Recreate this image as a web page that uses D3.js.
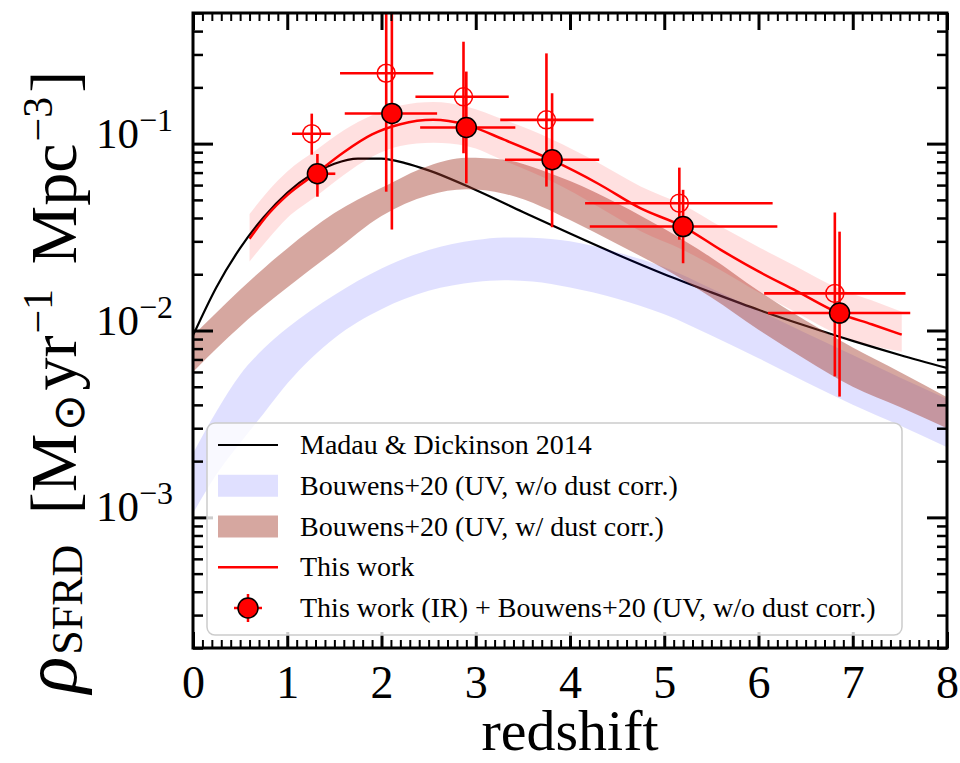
<!DOCTYPE html>
<html>
<head>
<meta charset="utf-8">
<script src="https://cdn.jsdelivr.net/npm/d3@7"></script>
<style>
body { margin: 0; background: #fff; }
svg { display: block; }
text { font-family: "Liberation Serif", "Times New Roman", serif; fill: #000; }
</style>
</head>
<body>
<div id="chart"></div>
<script>
// Madau & Dickinson 2014 curve
var mdZ = [0, 0.25, 0.5, 0.75, 1, 1.25, 1.5, 1.75, 2, 2.25, 2.5, 3, 3.5, 4, 4.5, 5, 5.5, 6, 6.5, 7, 7.5, 8];
var mdRho = [0.0094, 0.0171, 0.0276, 0.0404, 0.0546, 0.068, 0.0781, 0.0832, 0.0831, 0.0787, 0.0719, 0.0565, 0.0431, 0.033, 0.0255, 0.02, 0.016, 0.0129, 0.0106, 0.0088, 0.0074, 0.0063];

// Bouwens+20 UV without dust correction (band)
var uvZ = [0, 0.25, 0.5, 0.75, 1, 1.5, 2, 2.5, 3, 3.3, 3.6, 4, 4.5, 5, 5.5, 6, 6.5, 7, 7.5, 8];
var uvHi = [0.0022, 0.0037, 0.0058, 0.008, 0.0103, 0.0155, 0.0215, 0.027, 0.0305, 0.0315, 0.0314, 0.03, 0.0262, 0.0218, 0.0168, 0.0128, 0.0097, 0.0074, 0.0056, 0.0043];
var uvLo = [0.00105, 0.0017, 0.0025, 0.0036, 0.0052, 0.0091, 0.013, 0.0163, 0.0182, 0.0186, 0.0183, 0.017, 0.0148, 0.0122, 0.0094, 0.0071, 0.0053, 0.004, 0.0031, 0.00237];

// Bouwens+20 UV with dust correction (band)
var dustZ = [0, 0.25, 0.5, 0.75, 1, 1.5, 2, 2.5, 2.9, 3.3, 3.7, 4, 4.5, 5, 5.5, 6, 6.5, 7, 7.5, 8];
var dustHi = [0.0094, 0.0125, 0.0165, 0.0215, 0.0275, 0.0425, 0.058, 0.076, 0.084, 0.082, 0.072, 0.063, 0.048, 0.035, 0.0245, 0.0163, 0.0113, 0.0081, 0.006, 0.0044];
var dustLo = [0.006, 0.008, 0.0105, 0.0135, 0.017, 0.0265, 0.041, 0.053, 0.057, 0.054, 0.046, 0.039, 0.029, 0.0214, 0.015, 0.0101, 0.007, 0.005, 0.0039, 0.003];

// This work: best fit and its band
var fitZ = [0.6, 0.8, 1.0, 1.3, 1.6, 1.9, 2.2, 2.55, 2.9, 3.3, 3.8, 4.3, 4.75, 5.2, 5.6, 6.0, 6.4, 6.85, 7.2, 7.52];
var fitRho = [0.031, 0.042, 0.053, 0.069, 0.09, 0.112, 0.127, 0.134, 0.126, 0.105, 0.082, 0.061, 0.045, 0.036, 0.027, 0.0207, 0.0163, 0.0124, 0.0108, 0.0095];
var fitHi = [0.042, 0.056, 0.071, 0.092, 0.118, 0.142, 0.16, 0.167, 0.158, 0.134, 0.106, 0.079, 0.059, 0.047, 0.036, 0.028, 0.022, 0.0168, 0.0145, 0.0126];
var fitLo = [0.0234, 0.031, 0.04, 0.052, 0.068, 0.085, 0.097, 0.101, 0.097, 0.081, 0.063, 0.046, 0.034, 0.027, 0.021, 0.016, 0.0125, 0.0095, 0.0083, 0.0077];

// This work (IR) + Bouwens+20 (UV, w/o dust corr.), filled points
var ptZ = [1.32, 2.11, 2.90, 3.81, 5.20, 6.86];
var ptZlo = [1.21, 1.61, 2.41, 3.31, 4.21, 6.10];
var ptZhi = [1.51, 2.59, 3.42, 4.31, 6.20, 7.61];
var ptRho = [0.069, 0.145, 0.122, 0.082, 0.036, 0.0124];
var ptLo = [0.052, 0.0347, 0.0613, 0.0357, 0.0229, 0.00443];
var ptHi = [0.088, 0.6, 0.243, 0.186, 0.0566, 0.0338];

// open points
var opZ = [1.26, 2.05, 2.87, 3.75, 5.16, 6.81];
var opZlo = [1.05, 1.56, 2.36, 3.26, 4.16, 6.06];
var opZhi = [1.46, 2.55, 3.35, 4.25, 6.15, 7.56];
var opRho = [0.113, 0.238, 0.178, 0.134, 0.048, 0.0158];
var opLo = [0.0873, 0.0553, 0.0888, 0.0589, 0.0306, 0.00568];
var opHi = [0.1447, 0.9, 0.351, 0.304, 0.0744, 0.0428];

var xTicks = [0, 1, 2, 3, 4, 5, 6, 7, 8];
var yMajor = [1e-3, 1e-2, 1e-1];
var yTickExp = ["−3", "−2", "−1"];

var legendLabels = ["Madau & Dickinson 2014", "Bouwens+20 (UV, w/o dust corr.)", "Bouwens+20 (UV, w/ dust corr.)", "This work", "This work (IR) + Bouwens+20 (UV, w/o dust corr.)"];

var W = 960, H = 763;
var pL = 193, pR = 947, pT = 13, pB = 648;

var x = d3.scaleLinear().domain([0, 8]).range([pL, pR]);
var y = d3.scaleLog().domain([2e-4, 0.5]).range([pB, pT]);

var blueFill = "#0000ff", blueOp = 0.12;
var brownFill = "rgb(165,60,45)", brownOp = 0.45;
var pinkFill = "#ff0000", pinkOp = 0.12;
var red = "#ff0000";

var svg = d3.select("#chart").append("svg")
    .attr("width", W)
    .attr("height", H);

svg.append("defs").append("clipPath").attr("id", "plotclip")
    .append("rect")
    .attr("x", pL).attr("y", pT)
    .attr("width", pR - pL).attr("height", pB - pT);

var plot = svg.append("g").attr("clip-path", "url(#plotclip)");

function zip(zs, vs) {
    return zs.map(function (z, i) { return [z, vs[i]]; });
}
function zip3(zs, lo, hi) {
    return zs.map(function (z, i) { return [z, lo[i], hi[i]]; });
}

var line = d3.line()
    .x(function (d) { return x(d[0]); })
    .y(function (d) { return y(d[1]); })
    .curve(d3.curveMonotoneX);

var band = d3.area()
    .x(function (d) { return x(d[0]); })
    .y0(function (d) { return y(d[1]); })
    .y1(function (d) { return y(d[2]); })
    .curve(d3.curveMonotoneX);

// MD14 line first, bands are translucent on top of it
plot.append("path")
    .attr("d", line(zip(mdZ, mdRho)))
    .attr("fill", "none")
    .attr("stroke", "#000")
    .attr("stroke-width", 2.2);

plot.append("path")
    .attr("d", band(zip3(uvZ, uvLo, uvHi)))
    .attr("fill", blueFill).attr("fill-opacity", blueOp);

plot.append("path")
    .attr("d", band(zip3(dustZ, dustLo, dustHi)))
    .attr("fill", brownFill).attr("fill-opacity", brownOp);

plot.append("path")
    .attr("d", band(zip3(fitZ, fitLo, fitHi)))
    .attr("fill", pinkFill).attr("fill-opacity", pinkOp);

plot.append("path")
    .attr("d", line(zip(fitZ, fitRho)))
    .attr("fill", "none")
    .attr("stroke", red)
    .attr("stroke-width", 2.5);

function errorbars(zs, zlo, zhi, v, vlo, vhi) {
    var g = plot.append("g").attr("stroke", red).attr("stroke-width", 2.6);
    zs.forEach(function (z, i) {
        g.append("line")
            .attr("x1", x(z)).attr("x2", x(z))
            .attr("y1", y(vlo[i])).attr("y2", y(vhi[i]));
        g.append("line")
            .attr("x1", x(zlo[i])).attr("x2", x(zhi[i]))
            .attr("y1", y(v[i])).attr("y2", y(v[i]));
    });
}

errorbars(opZ, opZlo, opZhi, opRho, opLo, opHi);
plot.selectAll(".open").data(opZ).enter().append("circle")
    .attr("class", "open")
    .attr("cx", function (d) { return x(d); })
    .attr("cy", function (d, i) { return y(opRho[i]); })
    .attr("r", 9)
    .attr("fill", "none")
    .attr("stroke", red)
    .attr("stroke-width", 1.5);

errorbars(ptZ, ptZlo, ptZhi, ptRho, ptLo, ptHi);
plot.selectAll(".filled").data(ptZ).enter().append("circle")
    .attr("class", "filled")
    .attr("cx", function (d) { return x(d); })
    .attr("cy", function (d, i) { return y(ptRho[i]); })
    .attr("r", 10)
    .attr("fill", red)
    .attr("stroke", "#000")
    .attr("stroke-width", 1.5);

// ---- axes, ticks inward on all four sides
var xMinor = d3.range(0, 81).map(function (i) { return i / 10; }).filter(function (v) { return Math.abs(v - Math.round(v)) > 1e-6; });
var yMinor = y.ticks().filter(function (v) { return Math.abs(Math.log10(v) - Math.round(Math.log10(v))) > 1e-6; });

function tickLayer(axis, tr, sw) {
    var g = svg.append("g").attr("transform", tr).call(axis);
    g.select(".domain").remove();
    g.selectAll(".tick line").attr("stroke", "#000").attr("stroke-width", sw);
    return g;
}

tickLayer(d3.axisBottom(x).tickValues(xMinor).tickSize(-8).tickFormat(""), "translate(0," + pB + ")", 2);
tickLayer(d3.axisTop(x).tickValues(xMinor).tickSize(-8).tickFormat(""), "translate(0," + pT + ")", 2);
tickLayer(d3.axisTop(x).tickValues(xTicks).tickSize(-17).tickFormat(""), "translate(0," + pT + ")", 3);
tickLayer(d3.axisLeft(y).tickValues(yMinor).tickSize(-10).tickFormat(""), "translate(" + pL + ",0)", 2.5);
tickLayer(d3.axisRight(y).tickValues(yMinor).tickSize(-10).tickFormat(""), "translate(" + pR + ",0)", 2.5);
tickLayer(d3.axisRight(y).tickValues(yMajor).tickSize(-20).tickFormat(""), "translate(" + pR + ",0)", 3);

var xAxis = tickLayer(d3.axisBottom(x).tickValues(xTicks).tickSize(-16).tickPadding(17).tickFormat(d3.format("d")), "translate(0," + pB + ")", 3);
xAxis.selectAll("text")
    .style("font-family", '"Liberation Serif", serif')
    .style("font-size", "46px");

var yAxis = tickLayer(d3.axisLeft(y).tickValues(yMajor).tickSize(-20).tickPadding(20).tickFormat(""), "translate(" + pL + ",0)", 3);
yAxis.selectAll(".tick text")
    .style("font-family", '"Liberation Serif", serif')
    .attr("dy", "0.36em")
    .each(function (d, i) {
        var t = d3.select(this);
        t.append("tspan").style("font-size", "43px").text("10");
        t.append("tspan").style("font-size", "32px").attr("dy", -17).text(yTickExp[i]);
    });

svg.append("rect")
    .attr("x", pL).attr("y", pT)
    .attr("width", pR - pL).attr("height", pB - pT)
    .attr("fill", "none")
    .attr("stroke", "#000")
    .attr("stroke-width", 3);

// ---- axis titles
svg.append("text")
    .attr("x", (pL + pR) / 2)
    .attr("y", 750)
    .attr("text-anchor", "middle")
    .style("font-size", "58px")
    .text("redshift");

var yl = svg.append("text")
    .attr("transform", "translate(76,382) rotate(-90)")
    .attr("text-anchor", "middle")
    .style("font-size", "66px");
yl.append("tspan").style("font-style", "italic").style("font-size", "76px").text("ρ");
yl.append("tspan").style("font-size", "44px").attr("dx", 2).attr("dy", 6).text("SFRD");
yl.append("tspan").attr("dx", 14).attr("dy", -6).text(" [M");
yl.append("tspan").style("font-size", "44px").attr("dx", 3).attr("dy", 8).text("⊙");
yl.append("tspan").attr("dx", 3).attr("dy", -8).text("yr");
yl.append("tspan").style("font-size", "42px").attr("dx", 2).attr("dy", -24).text("−1");
yl.append("tspan").attr("dx", 8).attr("dy", 24).text(" Mpc");
yl.append("tspan").style("font-size", "42px").attr("dx", 2).attr("dy", -24).text("−3");
yl.append("tspan").attr("dx", 4).attr("dy", 24).text("]");

// ---- legend
var lg = svg.append("g").attr("transform", "translate(207,423)");
lg.append("rect")
    .attr("width", 695).attr("height", 212)
    .attr("rx", 8)
    .attr("fill", "#fff").attr("fill-opacity", 0.8)
    .attr("stroke", "#cccccc").attr("stroke-width", 1.5);

var rowY = d3.scalePoint().domain(d3.range(legendLabels.length)).range([22, 185]);

lg.append("line").attr("x1", 11).attr("x2", 71).attr("y1", rowY(0)).attr("y2", rowY(0))
    .attr("stroke", "#000").attr("stroke-width", 2.2);
lg.append("rect").attr("x", 11).attr("width", 60).attr("y", rowY(1) - 11).attr("height", 22)
    .attr("fill", blueFill).attr("fill-opacity", blueOp);
lg.append("rect").attr("x", 11).attr("width", 60).attr("y", rowY(2) - 11).attr("height", 22)
    .attr("fill", brownFill).attr("fill-opacity", brownOp);
lg.append("line").attr("x1", 11).attr("x2", 71).attr("y1", rowY(3)).attr("y2", rowY(3))
    .attr("stroke", red).attr("stroke-width", 2.5);
var mk = lg.append("g").attr("transform", "translate(41," + rowY(4) + ")");
mk.append("line").attr("x1", -14).attr("x2", 14).attr("stroke", red).attr("stroke-width", 2.5);
mk.append("line").attr("y1", -14).attr("y2", 14).attr("stroke", red).attr("stroke-width", 2.5);
mk.append("circle").attr("r", 10).attr("fill", red).attr("stroke", "#000").attr("stroke-width", 1.5);

lg.selectAll(".lt").data(legendLabels).enter().append("text")
    .attr("class", "lt")
    .attr("x", 93)
    .attr("y", function (d, i) { return rowY(i); })
    .attr("dy", "0.33em")
    .style("font-size", "28px")
    .text(function (d) { return d; });
</script>
</body>
</html>
